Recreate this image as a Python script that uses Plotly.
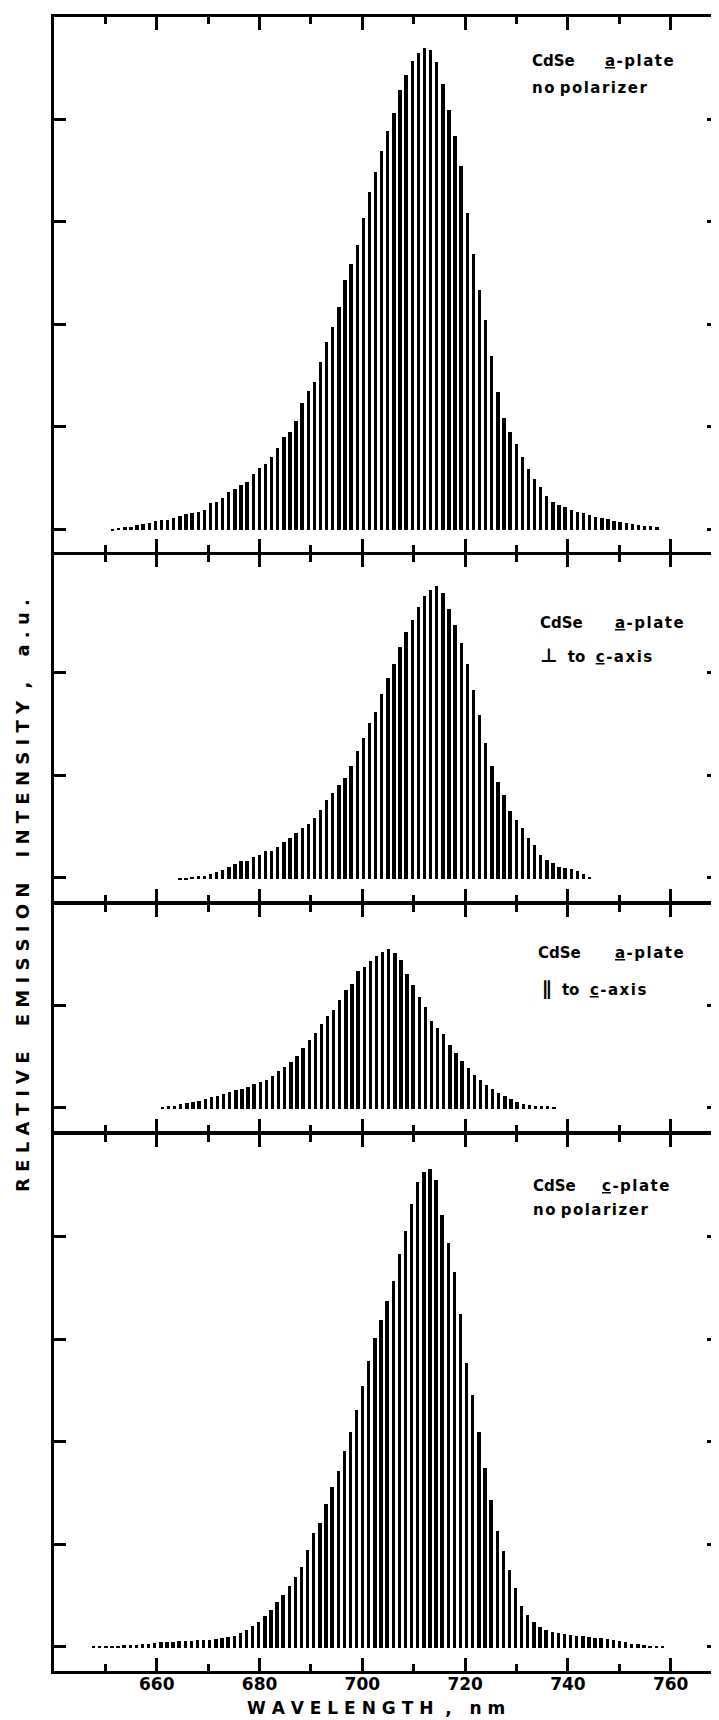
import plotly.graph_objects as go

# ---------------- data ----------------
WL_STEP = 1.19  # nm between adjacent fringe sticks

# Panel 1 : CdSe a-plate, no polarizer
P1_START = 651.4
P1_HEIGHTS = [0.01, 0.02, 0.03, 0.03, 0.05, 0.06, 0.07, 0.09, 0.10, 0.10,
              0.12, 0.14, 0.16, 0.17, 0.18, 0.20, 0.27, 0.28, 0.32, 0.37,
              0.40, 0.44, 0.47, 0.55, 0.61, 0.65, 0.72, 0.80, 0.91, 0.96,
              1.07, 1.24, 1.36, 1.45, 1.64, 1.84, 1.98, 2.18, 2.44, 2.60,
              2.78, 3.05, 3.30, 3.50, 3.70, 3.90, 4.07, 4.30, 4.44, 4.58,
              4.66, 4.71, 4.69, 4.57, 4.35, 4.10, 3.85, 3.55, 3.10, 2.70,
              2.35, 2.05, 1.70, 1.35, 1.10, 0.96, 0.84, 0.72, 0.60, 0.50,
              0.42, 0.34, 0.28, 0.25, 0.23, 0.20, 0.18, 0.17, 0.15, 0.13,
              0.12, 0.11, 0.09, 0.08, 0.07, 0.06, 0.05, 0.04, 0.04, 0.035]

# Panel 2 : CdSe a-plate, perpendicular to c-axis
P2_START = 664.5
P2_HEIGHTS = [0.01, 0.01, 0.02, 0.03, 0.03, 0.05, 0.07, 0.09, 0.12, 0.15,
              0.18, 0.18, 0.22, 0.24, 0.28, 0.28, 0.31, 0.36, 0.40, 0.45,
              0.50, 0.54, 0.60, 0.68, 0.77, 0.84, 0.92, 0.99, 1.10, 1.25,
              1.38, 1.52, 1.63, 1.81, 1.96, 2.10, 2.27, 2.41, 2.53, 2.66,
              2.76, 2.82, 2.86, 2.79, 2.64, 2.48, 2.30, 2.10, 1.85, 1.60,
              1.33, 1.10, 0.95, 0.82, 0.67, 0.58, 0.50, 0.40, 0.33, 0.24,
              0.19, 0.16, 0.12, 0.11, 0.10, 0.08, 0.05, 0.02]

# Panel 3 : CdSe a-plate, parallel to c-axis
P3_START = 661.1
P3_HEIGHTS = [0.02, 0.025, 0.03, 0.05, 0.06, 0.065, 0.08, 0.09, 0.11, 0.12,
              0.14, 0.16, 0.18, 0.19, 0.21, 0.24, 0.26, 0.28, 0.32, 0.37,
              0.41, 0.46, 0.51, 0.59, 0.67, 0.74, 0.83, 0.90, 0.96, 1.06,
              1.16, 1.22, 1.34, 1.38, 1.44, 1.49, 1.53, 1.56, 1.52, 1.45,
              1.31, 1.21, 1.09, 0.99, 0.86, 0.79, 0.73, 0.62, 0.54, 0.47,
              0.40, 0.33, 0.28, 0.23, 0.19, 0.15, 0.12, 0.09, 0.07, 0.05,
              0.035, 0.03, 0.025, 0.025, 0.02]

# Panel 4 : CdSe c-plate, no polarizer
P4_START = 647.7
P4_HEIGHTS = [0.01, 0.01, 0.015, 0.02, 0.02, 0.025, 0.03, 0.03, 0.035, 0.04,
              0.045, 0.05, 0.05, 0.055, 0.06, 0.06, 0.065, 0.07, 0.07, 0.075,
              0.08, 0.09, 0.10, 0.11, 0.14, 0.17, 0.21, 0.25, 0.31, 0.37,
              0.44, 0.51, 0.60, 0.69, 0.79, 0.95, 1.12, 1.22, 1.40, 1.57,
              1.72, 1.92, 2.10, 2.32, 2.55, 2.80, 3.02, 3.20, 3.38, 3.58,
              3.84, 4.06, 4.33, 4.54, 4.64, 4.67, 4.56, 4.22, 3.95, 3.66,
              3.25, 2.78, 2.46, 2.10, 1.75, 1.44, 1.14, 0.94, 0.76, 0.58,
              0.41, 0.32, 0.25, 0.20, 0.17, 0.15, 0.14, 0.13, 0.12, 0.11,
              0.11, 0.10, 0.09, 0.09, 0.08, 0.07, 0.06, 0.05, 0.04, 0.035,
              0.03, 0.02, 0.02, 0.015]

X_RANGE = [640, 769.4]
X_MAJOR = [660, 680, 700, 720, 740, 760]
X_MINOR = [650, 670, 690, 710, 730, 750]
X_LABELS = ["660", "680", "700", "720", "740", "760"]

Y_TICKS = [[0, 1, 2, 3, 4], [0, 1, 2], [0, 1], [0, 1, 2, 3, 4]]
Y_RANGES = [[-0.224, 4.996], [-0.235, 3.151], [-0.235, 1.985], [-0.237, 4.998]]

U = '<span style="text-decoration:underline">%s</span>'
HS = "\u200a"
NB = "\u00a0"

# ---------------- layout geometry (figure pixels) ----------------
OFF = 8              # the page body margin shifts the figure by 8 px
W, H = 711, 1712
PL, PR = 46, 711
PANEL_TOP = [9.25, 546.75, 896.25, 1126.25]
PANEL_BOT = [544.25, 893.75, 1123.75, 1662.75]
PT, PB = PANEL_TOP[0], PANEL_BOT[3]
PH = PB - PT


def dom(k):
    return [(PB - PANEL_BOT[k]) / PH, (PB - PANEL_TOP[k]) / PH]


def fx(px):  # px given in page pixels
    return (px - OFF - PL) / (PR - PL)


def fy(k, py):  # py given in page pixels
    return (PANEL_BOT[k] - (py - OFF)) / (PANEL_BOT[k] - PANEL_TOP[k])


panels = [(P1_START, P1_HEIGHTS), (P2_START, P2_HEIGHTS),
          (P3_START, P3_HEIGHTS), (P4_START, P4_HEIGHTS)]

FONT = "DejaVu Sans"
fig = go.Figure()
layout = dict(width=W, height=H, margin=dict(l=PL, r=W - PR, t=PT, b=H - PB),
              paper_bgcolor="white", plot_bgcolor="white", showlegend=False,
              font=dict(family=FONT, color="black"))

for k, (start, heights) in enumerate(panels):
    n = k + 1
    xs = "" if n == 1 else str(n)
    wl = [start + WL_STEP * i for i in range(len(heights))]
    fig.add_trace(go.Bar(x=wl, y=heights, base=-0.012, width=0.66,
                         marker=dict(color="black", line=dict(width=0)),
                         xaxis="x" + xs, yaxis="y" + xs, hoverinfo="skip"))
    # invisible anchor for the right-hand tick axis
    fig.add_trace(go.Scatter(x=[wl[0]], y=[0], mode="markers",
                             marker=dict(opacity=0), xaxis="x" + xs,
                             yaxis="y" + str(n + 4), hoverinfo="skip"))
    bottom = (n == 4)
    layout["xaxis" + xs] = dict(
        domain=[0, 1], anchor="y" + xs, range=X_RANGE, showgrid=False,
        zeroline=False, showline=True, linecolor="black", linewidth=2.5,
        mirror="ticks", ticks="inside", ticklen=13, tickwidth=2.5,
        tickcolor="black", tickvals=X_MAJOR, ticktext=X_LABELS,
        showticklabels=bottom, ticklabelstandoff=-4,
        tickfont=dict(family=FONT, size=17, weight="bold", color="black"),
        minor=dict(ticks="inside", ticklen=7.5, tickwidth=2.5,
                   tickcolor="black", tickvals=X_MINOR, showgrid=False),
        fixedrange=True)
    layout["yaxis" + xs] = dict(
        domain=dom(k), anchor="x" + xs, range=Y_RANGES[k], showgrid=False,
        zeroline=False, showline=True, linecolor="black", linewidth=3,
        ticks="inside", ticklen=12, tickwidth=2.5, tickcolor="black",
        tickvals=Y_TICKS[k], showticklabels=False, fixedrange=True)
    layout["yaxis" + str(n + 4)] = dict(
        overlaying="y" + xs, side="right", anchor="x" + xs,
        range=Y_RANGES[k], showgrid=False, zeroline=False, showline=False,
        ticks="inside", ticklen=12, tickwidth=2.5, tickcolor="black",
        tickvals=Y_TICKS[k], showticklabels=False, fixedrange=True)


# ---------------- panel labels ----------------
def sp(s):
    return HS.join(list(s))


BIG = '<span style="font-size:19px">%s</span>'
NOPOL = sp("no") + NB + sp("polarizer")
labels = [
    (0, 530, 61.7, "CdSe"),
    (0, 603, 61.7, (U % "a") + HS + sp("-plate")),
    (0, 530, 88.3, NOPOL),
    (1, 538, 622.7, "CdSe"),
    (1, 613, 622.7, (U % "a") + HS + sp("-plate")),
    (1, 538, 655, (BIG % "⊥") + NB * 2 + "to" + NB * 2 + (U % "c") + HS + sp("-axis")),
    (2, 536, 953.3, "CdSe"),
    (2, 613, 953.3, (U % "a") + HS + sp("-plate")),
    (2, 540, 988.3, (BIG % "∥") + NB * 2 + "to" + NB * 2 + (U % "c") + HS + sp("-axis")),
    (3, 531, 1186, "CdSe"),
    (3, 600, 1186, (U % "c") + HS + sp("-plate")),
    (3, 531, 1210, NOPOL),
]
ann = []
for k, px, py, txt in labels:
    xs = "" if k == 0 else str(k + 1)
    ann.append(dict(xref="x" + xs + " domain", yref="y" + xs + " domain",
                    x=fx(px), y=fy(k, py), xanchor="left", yanchor="middle",
                    text=txt, showarrow=False,
                    font=dict(family=FONT, size=15, weight="bold", color="black")))

ytitle = (NB.join("RELATIVE") + NB * 4 + NB.join("EMISSION") + NB * 4 +
          NB.join("INTENSITY") + NB * 2 + "," + NB * 4 + NB.join("a.u."))
ann.append(dict(xref="paper", yref="paper", x=fx(22), y=(PB - (896 - OFF)) / PH,
                xanchor="center", yanchor="middle", textangle=-90,
                text=ytitle, showarrow=False,
                font=dict(family=FONT, size=18, weight="bold", color="black")))
xtitle = NB.join("WAVELENGTH") + NB * 2 + "," + NB * 3 + NB.join("nm")
ann.append(dict(xref="paper", yref="paper", x=fx(376), y=(PB - (1708 - OFF)) / PH,
                xanchor="center", yanchor="middle", text=xtitle,
                showarrow=False,
                font=dict(family=FONT, size=17, weight="bold", color="black")))

layout["annotations"] = ann
layout["bargap"] = 0
fig.update_layout(**layout)
fig.write_html("out.html", config={"displayModeBar": False})
